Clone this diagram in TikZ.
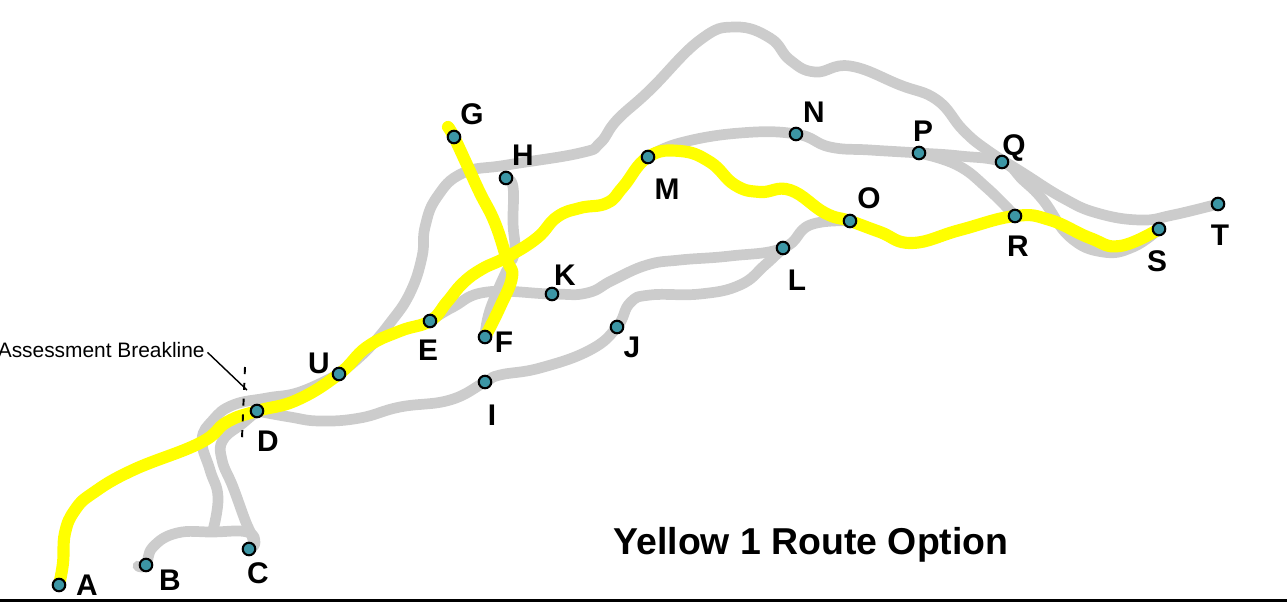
\documentclass[tikz,border=0pt]{standalone}
\usepackage{fontspec}
\setmainfont{Liberation Sans}
\usetikzlibrary{backgrounds}
\definecolor{routegray}{RGB}{204,204,204}
\definecolor{routeyellow}{RGB}{255,255,0}
\definecolor{stopteal}{RGB}{60,150,165}
\tikzset{
    stopdot/.style={circle,draw=black,line width=1.2pt,fill=stopteal,minimum size=12.5*0.02cm,inner sep=0pt},
    stoplabel/.style={font=\fontsize{17}{17}\selectfont\bfseries,inner sep=0pt},
    altroute/.style={draw=routegray,line width=6.1pt,line cap=round,line join=round},
    mainroute/.style={draw=routeyellow,line width=6.9pt,line cap=round,line join=round}
}

\begin{document}
\begin{tikzpicture}[x=0.02cm,y=-0.02cm]
            \useasboundingbox (0,0) rectangle (1287,602);

            \foreach \name/\x/\y/\lx/\ly in {
                A/59/585/87/585, B/146/565/170/580, C/249/549/258/573,
                D/257/411/268/441, E/430/321/428/350, F/485/337/504/342,
                G/454/137/472/114, H/506/178/523/155, I/485/382/492/415,
                J/617/327/632/347, K/552/294/565/275, L/783/248/797/280,
                M/648/157/667/189, N/796/134/814/112, O/850/221/869/198,
                P/919/153/923/131, Q/1002/162/1014/148, R/1015/216/1018/246,
                S/1159/229/1157/261, T/1218/204/1220/235, U/339/374/319/363}{
                \node[stopdot] (\name) at (\x,\y) {};
                \node[stoplabel] (label\name) at (\lx,\ly) {\name};
            }

            \node[font=\fontsize{21.3}{22}\selectfont\bfseries,inner sep=0pt] (title) at (811,545) {Yellow 1 Route Option};
            \node[font=\fontsize{11.9}{12}\selectfont,anchor=east,inner sep=0pt] (breaklabel) at (205,350) {Assessment Breakline};

            \coordinate (leaderend) at (247,390);
            \coordinate (breaktop) at (245,367);
            \coordinate (breakbot) at (242,438);
            \coordinate (baseleft) at (0,600.5);
            \coordinate (baseright) at (1287,600.5);
            \draw[line width=0.8pt,shorten <=2pt] (breaklabel.east) -- (leaderend);
            \draw[line width=1.1pt,dash pattern=on 4pt off 5pt] (breaktop) -- (breakbot);
            \draw[line width=1.2pt] (baseleft) -- (baseright);

            \begin{pgfonlayer}{background}
                % gray alternatives
                \draw[altroute] plot[smooth,tension=0.75] coordinates {(339,374) (300,392) (267,398) (233,405) (213,420) (202,440) (210,470) (218,497) (213,530)};
                \draw[altroute] plot[smooth,tension=0.75] coordinates {(D) (243,423) (223,440) (222,460) (233,487) (245,520) (253,540) (C)};
                \draw[altroute] plot[smooth,tension=0.75] coordinates {(138,566) (B) (153,547) (177,533) (213,532) (247,532) (255,543) (C)};
                \draw[altroute] plot[smooth,tension=0.75] coordinates {(D) (290,417) (320,421) (360,418) (400,407) (450,400) (I) (500,375) (540,368) (590,350) (J) (630,303) (650,295) (700,294) (740,285) (765,265) (L)};
                \draw[altroute] plot[smooth,tension=0.75] coordinates {(U) (365,352) (390,323) (410,293) (422,257) (425,227) (437,197) (463,173) (507,165) (580,153) (600,143) (617,120) (650,90) (700,40) (735,27) (770,38) (790,60) (815,72) (850,66) (900,85) (937,100) (963,130) (987,150) (1023,173) (1063,198) (1097,213) (1140,220) (1173,215) (T)};
                \draw[altroute] plot[smooth,tension=0.75] coordinates {(H) (513,187) (513,223) (515,247) (512,260)};
                \draw[altroute] plot[smooth,tension=0.75] coordinates {(F) (490,310) (507,270)};
                \draw[altroute] plot[smooth,tension=0.75] coordinates {(E) (453,307) (487,292) (K) (587,293) (613,280) (647,265) (680,260) (730,256) (L) (810,225) (O)};
                \draw[altroute] plot[smooth,tension=0.75] coordinates {(M) (680,143) (740,133) (N) (830,147) (870,150) (P) (960,156) (Q) (1023,180) (1043,200) (1070,237) (1103,252) (1133,247) (S)};
                \draw[altroute] plot[smooth,tension=0.75] coordinates {(P) (957,165) (987,188) (R)};
                % yellow option
                \draw[mainroute] plot[smooth,tension=0.75] coordinates {(A) (63,563) (65,533) (75,510) (93,493) (133,470) (200,443) (227,422) (D) (297,400) (U) (367,347) (400,331) (E) (447,302) (463,283) (482,269) (507,257) (537,238) (557,217) (580,208) (607,203) (623,187) (M) (680,151) (710,162) (735,185) (760,192) (790,190) (825,213) (O) (880,232) (912,243) (960,230) (R) (1050,220) (1090,238) (1120,246) (S)};
                \draw[mainroute] plot[smooth,tension=0.75] coordinates {(448,127) (G) (468,167) (480,193) (495,223) (507,260) (512,277) (500,307) (F)};
            \end{pgfonlayer}
        \end{tikzpicture}
\end{document}
